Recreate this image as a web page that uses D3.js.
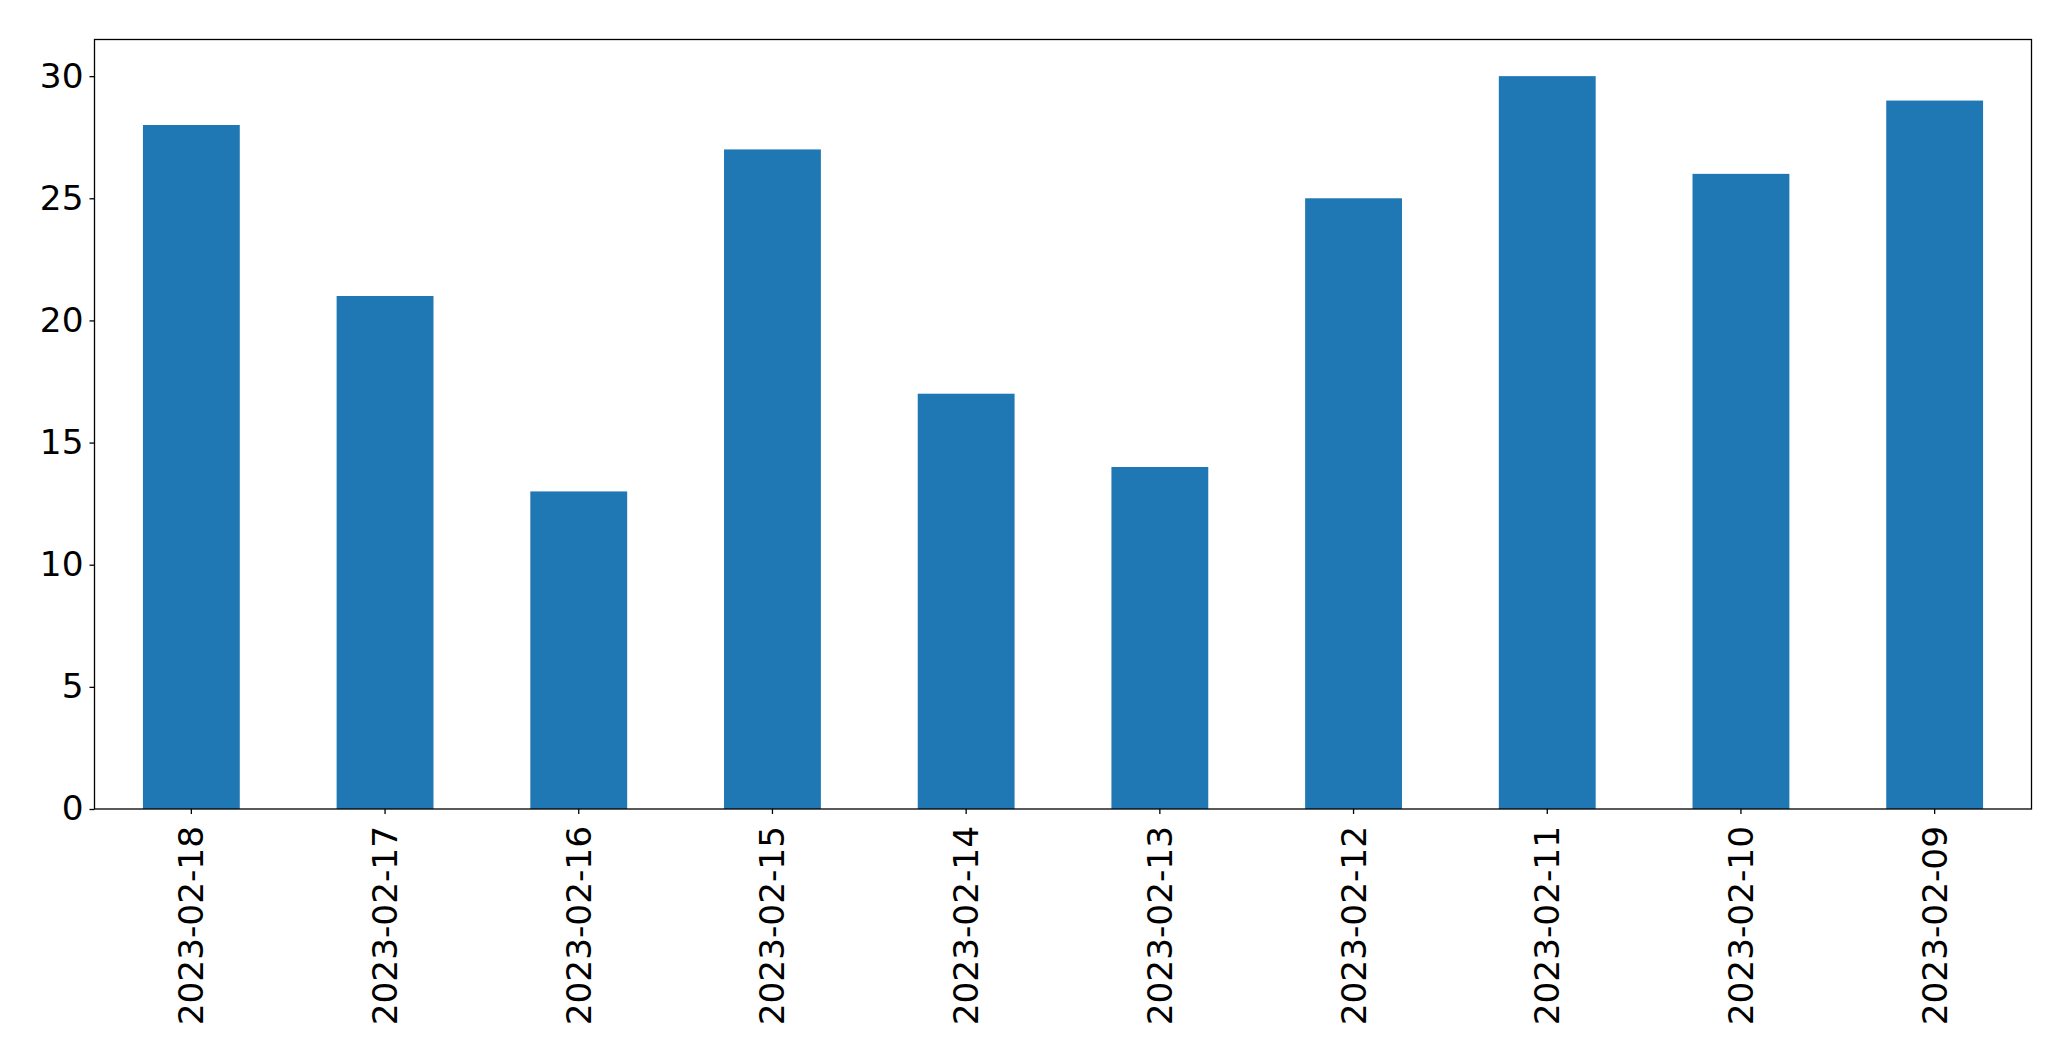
<!DOCTYPE html>
<html><head><meta charset="utf-8">
<script src="https://cdn.jsdelivr.net/npm/d3@7"></script>
<style>html,body{margin:0;padding:0;background:#fff;}svg{display:block;}</style>
</head><body>
<script>
const categories = ["2023-02-18","2023-02-17","2023-02-16","2023-02-15","2023-02-14","2023-02-13","2023-02-12","2023-02-11","2023-02-10","2023-02-09"];
const values = [28, 21, 13, 27, 17, 14, 25, 30, 26, 29];
const yTicks = [0, 5, 10, 15, 20, 25, 30];

const W = 2071, H = 1061;
const m = {left: 94.5, right: 2031.5, top: 39.5, bottom: 809};
const fontSize = 34.3;
const svg = d3.select("body").append("svg").attr("width", W).attr("height", H);

const x = d3.scaleBand().domain(categories).range([m.left, m.right]).paddingInner(0.5).paddingOuter(0.25);
const y = d3.scaleLinear().domain([0, 31.5]).range([m.bottom, m.top]);

svg.append("g").selectAll("rect").data(values).join("rect")
  .attr("x", (d, i) => x(categories[i]))
  .attr("width", x.bandwidth())
  .attr("y", d => y(d))
  .attr("height", d => y(0) - y(d))
  .attr("fill", "#1f77b4");

// frame
svg.append("rect").attr("x", m.left).attr("y", m.top)
  .attr("width", m.right - m.left).attr("height", m.bottom - m.top)
  .attr("fill", "none").attr("stroke", "#000").attr("stroke-width", 1.3);

const yAxis = svg.append("g").attr("transform", `translate(${m.left},0)`)
  .call(d3.axisLeft(y).tickValues(yTicks).tickSize(5).tickPadding(6).tickFormat(d3.format("d")));
yAxis.select(".domain").remove();
yAxis.selectAll("line").attr("stroke", "#000").attr("stroke-width", 1.3);
yAxis.selectAll("text").attr("font-family", "DejaVu Sans").attr("font-size", fontSize).attr("fill", "#000");

const xAxis = svg.append("g").attr("transform", `translate(0,${m.bottom})`)
  .call(d3.axisBottom(x).tickSize(5).tickPadding(0));
xAxis.select(".domain").remove();
xAxis.selectAll("line").attr("stroke", "#000").attr("stroke-width", 1.3);
xAxis.selectAll("text")
  .attr("font-family", "DejaVu Sans").attr("font-size", fontSize).attr("fill", "#000")
  .attr("transform", "rotate(-90)")
  .attr("x", -17).attr("y", 0).attr("dy", "0.35em")
  .attr("text-anchor", "end");
</script>
</body></html>
